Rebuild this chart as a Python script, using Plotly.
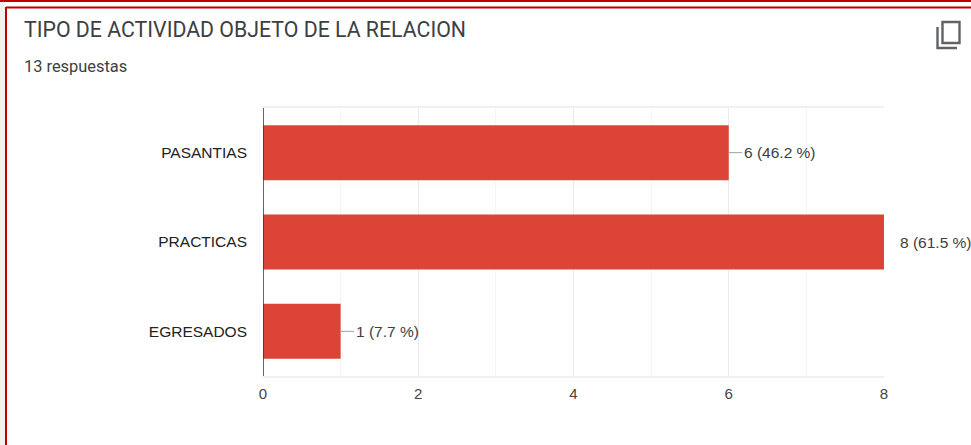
import plotly.graph_objects as go

categories = ["PASANTIAS", "PRACTICAS", "EGRESADOS"]
values = [6, 8, 1]
labels = ["6 (46.2 %)", "8 (61.5 %)", "1 (7.7 %)"]
x_ticks = [0, 2, 4, 6, 8]
title_text = "TIPO DE ACTIVIDAD OBJETO DE LA RELACION"
subtitle_text = "13 respuestas"

W, H = 971, 445
L, R, T, B = 263, 884, 108, 376
RED = "#C00000"


def px(x):
    return (x - L) / (R - L)


def py(y):
    return (B - y) / (B - T)


fig = go.Figure(go.Bar(
    x=values, y=categories, orientation="h",
    marker=dict(color="#DB4437", line=dict(width=0)),
    width=0.615, hoverinfo="skip",
))

shapes = [
    dict(type="rect", xref="paper", yref="paper", x0=px(0), x1=px(5), y0=py(0), y1=py(H),
         fillcolor="#F1F1F1", line_width=0, layer="below"),
    dict(type="line", xref="paper", yref="paper", x0=px(0), x1=px(W), y0=py(1), y1=py(1),
         line=dict(color=RED, width=2)),
    dict(type="line", xref="paper", yref="paper", x0=px(6), x1=px(W), y0=py(7.5), y1=py(7.5),
         line=dict(color=RED, width=2)),
    dict(type="line", xref="paper", yref="paper", x0=px(6), x1=px(6), y0=py(7), y1=py(H),
         line=dict(color=RED, width=2)),
    # copy icon
    dict(type="path", xref="paper", yref="paper",
         path=f"M {px(937.5)} {py(27)} L {px(937.5)} {py(48)} L {px(957)} {py(48)}",
         line=dict(color="#5F6368", width=2.4)),
    dict(type="rect", xref="paper", yref="paper", x0=px(942.5), x1=px(959.5), y0=py(22), y1=py(43),
         line=dict(color="#5F6368", width=2.4)),
]
fig.update_layout(shapes=shapes)

annotations = [
    dict(xref="paper", yref="paper", x=px(21.5), y=py(30), text=title_text, showarrow=False,
         xanchor="left", yanchor="middle", font=dict(family="Roboto", size=21.3, color="#3C4043")),
    dict(xref="paper", yref="paper", x=px(21.5), y=py(66.5), text=subtitle_text, showarrow=False,
         xanchor="left", yanchor="middle", font=dict(family="Roboto", size=16.4, color="#3C4043")),
]
for cat, v, lab in zip(categories, values, labels):
    leader = 2 if v == max(values) else 17
    gap = 13.5
    annotations.append(dict(x=v, y=cat, xref="x", yref="y", text=" ", showarrow=True, arrowhead=0,
                            arrowwidth=1, arrowcolor="#9AA0A6", ax=leader, ay=0, standoff=0))
    annotations.append(dict(x=v, y=cat, xref="x", yref="y", text=lab, showarrow=False, xanchor="left",
                            xshift=gap, font=dict(family="Liberation Sans", size=15.5, color="#3C4043")))
fig.update_layout(annotations=annotations)

fig.update_layout(
    width=W, height=H, autosize=False,
    margin=dict(l=L, r=W - R, t=T, b=H - B, pad=0),
    paper_bgcolor="white", plot_bgcolor="white", showlegend=False, bargap=0.385,
    font=dict(family="Liberation Sans", size=15.5, color="#3C4043"),
)
fig.update_xaxes(
    range=[0, 8], tickvals=x_ticks, ticks="", ticklabelstandoff=3,
    showgrid=True, gridcolor="#EBEBEB", gridwidth=1, zeroline=False,
    showline=True, linecolor="#F0F0F0", linewidth=1.5, mirror=True,
    minor=dict(dtick=1, showgrid=True, gridcolor="#F5F5F5", gridwidth=1),
    tickfont=dict(family="Liberation Sans", size=15, color="#444444"),
)
fig.update_yaxes(
    categoryorder="array", categoryarray=categories[::-1], ticks="", ticklabelstandoff=15,
    showgrid=False, zeroline=False, showline=False,
    tickfont=dict(family="Liberation Sans", size=15.5, color="#222222"),
)
fig.add_shape(type="line", xref="x", yref="paper", x0=0, x1=0, y0=0, y1=1,
              line=dict(color="#333333", width=1.5), layer="above")
fig.write_html("out.html", config={"displayModeBar": False},
               post_script="document.body.style.margin='0';document.body.style.overflow='hidden';")
